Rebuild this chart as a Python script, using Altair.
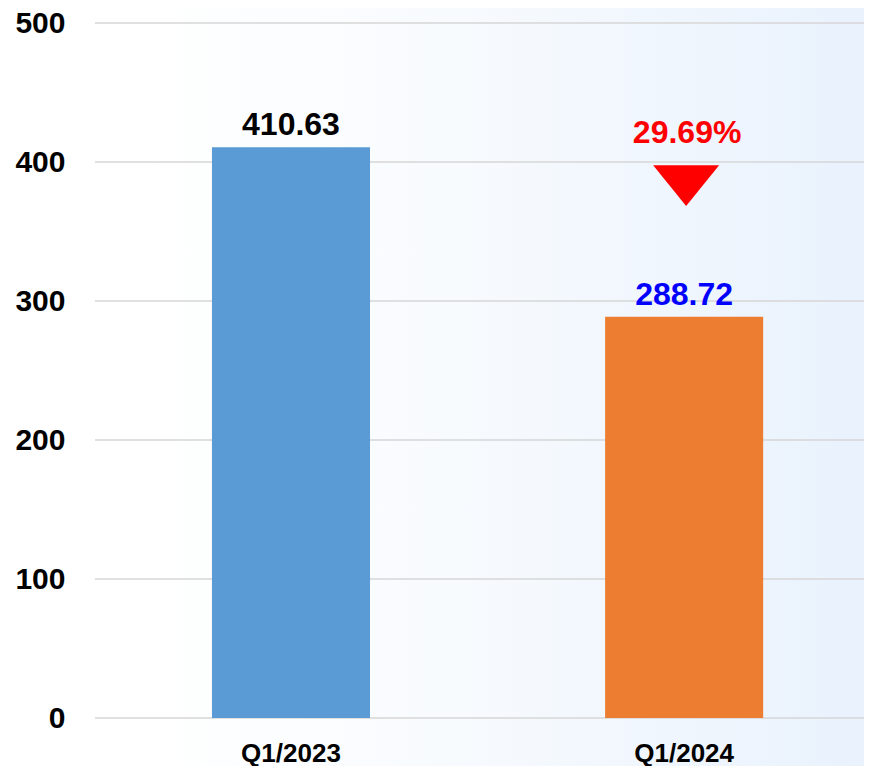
import altair as alt
import pandas as pd

categories = ["Q1/2023", "Q1/2024"]
values = [410.63, 288.72]
bar_colors = ["#5B9BD5", "#ED7D31"]
label_colors = ["#000000", "#0000FF"]
value_labels = ["410.63", "288.72"]

change_label = "29.69%"
change_marker_y = 383
change_label_y = 421

y_ticks = [0, 100, 200, 300, 400, 500]

W, H = 769, 695
PAD_L, PAD_T, PAD_B = 87, 15, 48

df = pd.DataFrame({
    "cat": categories,
    "value": values,
    "bar_color": bar_colors,
    "label_color": label_colors,
    "label": value_labels,
})

x_scale = alt.Scale(paddingInner=0.598, paddingOuter=0.277, align=0.537)

x_enc = alt.X(
    "cat:N",
    sort=categories,
    scale=x_scale,
    axis=alt.Axis(
        title=None, labelAngle=0, domain=False, ticks=False, zindex=1,
        labelFont="Liberation Sans", labelFontSize=26,
        labelFontWeight="bold", labelColor="#000000", labelPadding=22,
    ),
)
y_scale = alt.Scale(domain=[0, 500], nice=False)

bg = alt.Chart(alt.Data(values=[{"a": 1}])).mark_rect(
    color=alt.Gradient(
        gradient="linear", x1=0, x2=1, y1=0, y2=0,
        stops=[
            alt.GradientStop(offset=0, color="#FFFFFF"),
            alt.GradientStop(offset=0.15, color="#FFFFFF"),
            alt.GradientStop(offset=0.5, color="#F8FBFE"),
            alt.GradientStop(offset=1, color="#E9F2FD"),
        ],
    )
).encode(
    x=alt.value(-PAD_L), x2=alt.value(W),
    y=alt.value(-PAD_T), y2=alt.value(H + PAD_B),
)

grid = alt.Chart(pd.DataFrame({"tick": y_ticks})).mark_rule(
    color="#D6D6D6", strokeWidth=1.5
).encode(y=alt.Y("tick:Q", scale=y_scale))

bars = alt.Chart(df).mark_bar().encode(
    x=x_enc,
    y=alt.Y(
        "value:Q", scale=y_scale,
        axis=alt.Axis(
            title=None, values=y_ticks, grid=False, domain=False, ticks=False,
            zindex=1,
            labelFont="Liberation Sans", labelFontSize=30, labelFontWeight="bold",
            labelColor="#000000", labelPadding=30,
        ),
    ),
    color=alt.Color("bar_color:N", scale=None),
)

labels = alt.Chart(df).mark_text(
    font="Liberation Sans", fontSize=32, fontWeight="bold",
    baseline="bottom", dy=-5,
).encode(
    x=alt.X("cat:N", sort=categories),
    y=alt.Y("value:Q", scale=y_scale),
    text="label:N",
    color=alt.Color("label_color:N", scale=None),
)

chg = pd.DataFrame({
    "cat": [categories[1]],
    "my": [change_marker_y],
    "ly": [change_label_y],
    "txt": [change_label],
})

marker = alt.Chart(chg).mark_point(
    shape="M-1,-0.62L1,-0.62L0,0.62Z", filled=True, color="#FF0000",
    size=4356, opacity=1, strokeWidth=0, xOffset=2,
).encode(
    x=alt.X("cat:N", sort=categories),
    y=alt.Y("my:Q", scale=y_scale),
)

chg_text = alt.Chart(chg).mark_text(
    font="Liberation Sans", fontSize=32, fontWeight="bold", color="#FF0000",
    baseline="middle", dx=3,
).encode(
    x=alt.X("cat:N", sort=categories),
    y=alt.Y("ly:Q", scale=y_scale),
    text="txt:N",
)

chart = alt.layer(bg, grid, bars, labels, marker, chg_text).properties(
    width=W, height=H,
    autosize=alt.AutoSizeParams(type="none"),
    padding={"left": PAD_L, "top": PAD_T, "right": 0, "bottom": PAD_B},
    background="#FFFFFF",
).configure_view(stroke=None)

chart.save("out.html", embed_options={"renderer": "svg", "actions": False})
